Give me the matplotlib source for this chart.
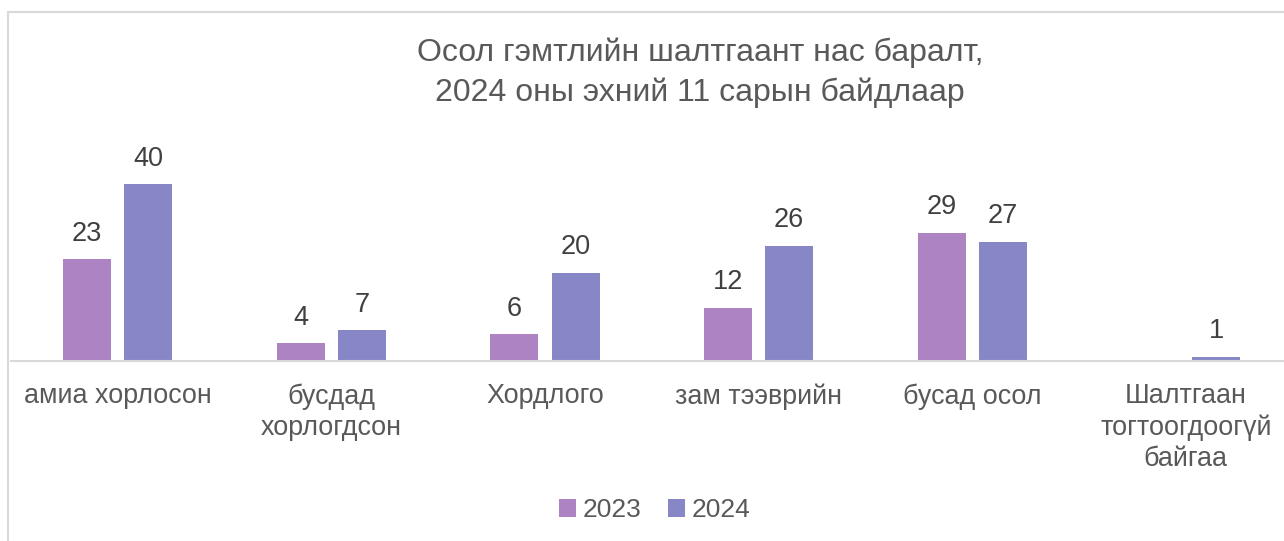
import matplotlib
matplotlib.use("Agg")
import matplotlib.pyplot as plt
from matplotlib.patches import Rectangle
import numpy as np

plt.rcParams['font.family'] = ['Liberation Sans', 'DejaVu Sans']

categories = ["амиа хорлосон", "бусдад\nхорлогдсон", "Хордлого", "зам тээврийн",
              "бусад осол", "Шалтгаан\nтогтоогдоогүй\nбайгаа"]
series_names = ["2023", "2024"]
values_2023 = [23, 4, 6, 12, 29, None]
values_2024 = [40, 7, 20, 26, 27, 1]
colors = ["#AE83C3", "#8787C7"]
title = "Осол гэмтлийн шалтгаант нас баралт,\n2024 оны эхний 11 сарын байдлаар"

W, H = 1284, 541
fig = plt.figure(figsize=(W / 100, H / 100), dpi=100)

# outer chart border
fig.patches.append(Rectangle((8 / W, -0.1), 1.2, (H - 12) / H + 0.1,
                             transform=fig.transFigure, fill=False,
                             edgecolor="#D9D9D9", linewidth=1.5))

ax = fig.add_axes([11 / W, (H - 361) / H, 1281.6 / W, 221.25 / H])
x = np.arange(len(categories))
bw = 0.225
off = 0.143
for vals, sign, col, name in [(values_2023, -1, colors[0], series_names[0]),
                              (values_2024, 1, colors[1], series_names[1])]:
    xs = [xi + sign * off for xi, v in zip(x, vals) if v is not None]
    vs = [v for v in vals if v is not None]
    bars = ax.bar(xs, vs, width=bw, color=col, label=name, zorder=2)
    for b, v in zip(bars, vs):
        ax.annotate(str(v), (b.get_x() + b.get_width() / 2, v),
                    xytext=(0, 9), textcoords="offset points",
                    ha="center", va="bottom", fontsize=19.5, color="#404040")

ax.set_xlim(-0.5, len(categories) - 0.5)
ax.set_ylim(0, 50)
ax.set_xticks(x)
ax.set_xticklabels(categories, fontsize=19.4, color="#595959", linespacing=1.25)
ax.tick_params(axis="x", length=0, pad=16)
ax.set_yticks([])
for s in ["top", "right", "left"]:
    ax.spines[s].set_visible(False)
ax.spines["bottom"].set_color("#D9D9D9")
ax.spines["bottom"].set_linewidth(1.5)

fig.text(700 / W, 1 - 72.5 / H, title, ha="center", va="center", fontsize=23,
         color="#595959", linespacing=1.42)

fig.legend(loc="center", bbox_to_anchor=(655 / W, 1 - 510 / H), ncol=2,
           frameon=False, fontsize=19, handlelength=0.65, handleheight=0.65,
           handletextpad=0.25, columnspacing=1.0, labelcolor="#595959")

fig.savefig("out.png", dpi=100)
